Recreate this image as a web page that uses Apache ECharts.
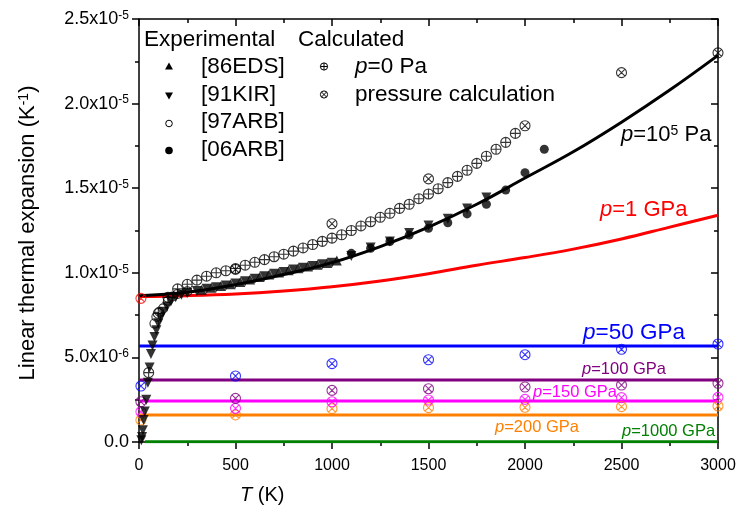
<!DOCTYPE html>
<html><head><meta charset="utf-8">
<script src="https://cdn.jsdelivr.net/npm/echarts@6/dist/echarts.min.js"></script>
<style>html,body{margin:0;padding:0;background:#fff}#c{width:740px;height:518px}</style>
</head><body><div id="c"></div>
<script>
// all alpha values in units of 1e-5 K^-1
const xTicks = [0, 500, 1000, 1500, 2000, 2500, 3000];
const yTickMant = ['0.0', '5.0', '1.0', '1.5', '2.0', '2.5'];
const yTickExp = ['', '-6', '-5', '-5', '-5', '-5'];

const T_curve = [0, 250, 500, 750, 1000, 1250, 1500, 1750, 2000, 2250, 2500, 2750, 3000];
const a_curve_1e5Pa = [0.865, 0.885, 0.93, 0.99, 1.06, 1.155, 1.27, 1.405, 1.56, 1.715, 1.89, 2.08, 2.285];
const a_curve_1GPa = [0.86, 0.865, 0.875, 0.893, 0.918, 0.952, 0.995, 1.045, 1.09, 1.14, 1.20, 1.27, 1.34];

const T_flat = [0, 3000];
const T_flat1000 = [30, 3000];
const a_flat_50GPa = [0.567, 0.567];
const a_flat_100GPa = [0.366, 0.366];
const a_flat_150GPa = [0.242, 0.242];
const a_flat_200GPa = [0.160, 0.160];
const a_flat_1000GPa = [0.002, 0.002];

const T_p0 = [50,100,150,200,250,300,350,400,450,500,550,600,650,700,750,800,850,900,950,1000,1050,1100,1150,1200,1250,1300,1350,1400,1450,1500,1550,1600,1650,1700,1750,1800,1850,1900,1950];
const a_p0 = [0.41,0.76,0.855,0.905,0.932,0.957,0.98,1.0,1.012,1.025,1.045,1.062,1.078,1.095,1.11,1.128,1.147,1.167,1.186,1.205,1.225,1.25,1.277,1.302,1.328,1.352,1.381,1.405,1.438,1.466,1.497,1.533,1.57,1.606,1.647,1.689,1.73,1.771,1.824];

const T_pc = [500, 1000, 1500, 2000, 2500, 3000];
const pc_1e5Pa = [1.02, 1.29, 1.555, 1.869, 2.183, 2.30];
const T_pcLow = [10];
const pcLow_1GPa = [0.849];
const T_pcAll = [10, 500, 1000, 1500, 2000, 2500, 3000];
const pc_50GPa = [0.331, 0.39, 0.463, 0.486, 0.516, 0.548, 0.579];
const pc_100GPa = [0.238, 0.258, 0.305, 0.315, 0.325, 0.337, 0.347];
const pc_150GPa = [0.179, 0.199, 0.238, 0.248, 0.252, 0.262, 0.264];
const pc_200GPa = [0.13, 0.16, 0.197, 0.203, 0.205, 0.209, 0.213];

const T_86EDS = [325,375,425,475,525,575,625,675,725,775,825,875,925,975,1025];
const a_86EDS = [0.90,0.912,0.922,0.933,0.945,0.96,0.975,0.99,1.002,1.015,1.027,1.037,1.047,1.058,1.072];
const T_91KIR = [12,16,20,24,30,38,46,55,62,70,80,90,100,112,126,145,165,190,220,250,300,350,400,450,500,550,600,650,700,750,800,850,900,950,1000,1100,1200,1300,1400,1500,1600,1700,1800];
const a_91KIR = [0.01,0.03,0.07,0.13,0.18,0.25,0.35,0.44,0.52,0.57,0.62,0.66,0.70,0.735,0.77,0.80,0.83,0.855,0.87,0.88,0.892,0.905,0.915,0.925,0.937,0.95,0.965,0.98,0.995,1.005,1.02,1.03,1.04,1.05,1.06,1.10,1.15,1.185,1.235,1.28,1.32,1.38,1.445];
const T_97ARB = [80, 90, 105, 125, 150, 175, 200, 250];
const a_97ARB = [0.70, 0.74, 0.77, 0.79, 0.835, 0.86, 0.875, 0.89];
const T_06ARB = [1100,1200,1300,1400,1500,1600,1700,1800,1900,2000,2100];
const a_06ARB = [1.115,1.145,1.185,1.223,1.263,1.296,1.348,1.405,1.489,1.592,1.73];

const FONT = 'Arial, "Liberation Sans", sans-serif';
const zip = (xs, ys) => xs.map((x, i) => [x, ys[i]]);

const OPLUS = 'path://M0,-5A5,5 0 1,1 0,5A5,5 0 1,1 0,-5Z M-5,0L5,0 M0,-5L0,5';
const OTIMES = 'path://M0,-5A5,5 0 1,1 0,5A5,5 0 1,1 0,-5Z M-3.54,-3.54L3.54,3.54 M-3.54,3.54L3.54,-3.54';

function lineSeries(xs, ys, color, width, smooth) {
  return {type: 'line', data: zip(xs, ys), smooth: smooth ? 0.4 : false, symbol: 'none',
    lineStyle: {color: color, width: width}, z: 3, silent: true};
}
function hollow(xs, ys, color, sym, size) {
  return {type: 'scatter', data: zip(xs, ys), symbol: sym, symbolSize: size,
    itemStyle: {color: 'rgba(0,0,0,0)', borderColor: color, borderWidth: 1.1}, z: 4, silent: true};
}
function filled(xs, ys, sym, size, rot) {
  return {type: 'scatter', data: zip(xs, ys), symbol: sym, symbolSize: size, symbolRotate: rot || 0,
    itemStyle: {color: '#000'}, z: 5, silent: true};
}

const chart = echarts.init(document.getElementById('c'), null, {renderer: 'canvas', width: 740, height: 518});

const axisLine = {show: true, onZero: false, lineStyle: {color: '#000', width: 1.5}};
const tickStyle = {color: '#000', width: 1.5};

const txt = (t, x, y, size, color, extra) => ({
  type: 'text', x: x, y: y, silent: true,
  style: Object.assign({text: t, fill: color, font: size + 'px ' + FONT, textVerticalAlign: 'middle',
    rich: {
      i: {fontStyle: 'italic', fontSize: size, fontFamily: FONT, fill: color},
      n: {fontSize: size, fontFamily: FONT, fill: color},
      s: {fontSize: Math.round(size * 0.62), fontFamily: FONT, fill: color, verticalAlign: 'top', lineHeight: Math.round(size * 0.62)}
    }}, extra || {})
});

const legendGraphics = [
  txt('Experimental', 144, 40, 22.5, '#000'),
  txt('Calculated', 298, 40, 22.5, '#000'),
  {type: 'polygon', silent: true, shape: {points: [[169, 62.5], [173, 69.5], [165, 69.5]]}, style: {fill: '#000'}},
  {type: 'polygon', silent: true, shape: {points: [[165, 92.5], [173, 92.5], [169, 99.5]]}, style: {fill: '#000'}},
  {type: 'circle', silent: true, shape: {cx: 169, cy: 123.5, r: 3.3}, style: {fill: '#fff', stroke: '#000', lineWidth: 1}},
  {type: 'circle', silent: true, shape: {cx: 169, cy: 150.5, r: 3.8}, style: {fill: '#000'}},
  txt('[86EDS]', 201, 67, 22.5, '#000'),
  txt('[91KIR]', 201, 95, 22.5, '#000'),
  txt('[97ARB]', 201, 122, 22.5, '#000'),
  txt('[06ARB]', 201, 150, 22.5, '#000'),
  {type: 'group', silent: true, x: 324, y: 66.5, children: [
    {type: 'circle', shape: {cx: 0, cy: 0, r: 3.6}, style: {fill: 'none', stroke: '#000', lineWidth: 1}},
    {type: 'line', shape: {x1: -3.6, y1: 0, x2: 3.6, y2: 0}, style: {stroke: '#000', lineWidth: 1}},
    {type: 'line', shape: {x1: 0, y1: -3.6, x2: 0, y2: 3.6}, style: {stroke: '#000', lineWidth: 1}}
  ]},
  {type: 'group', silent: true, x: 324, y: 94.5, children: [
    {type: 'circle', shape: {cx: 0, cy: 0, r: 3.6}, style: {fill: 'none', stroke: '#000', lineWidth: 1}},
    {type: 'line', shape: {x1: -2.5, y1: -2.5, x2: 2.5, y2: 2.5}, style: {stroke: '#000', lineWidth: 1}},
    {type: 'line', shape: {x1: -2.5, y1: 2.5, x2: 2.5, y2: -2.5}, style: {stroke: '#000', lineWidth: 1}}
  ]},
  txt('{i|p}{n|=0 Pa}', 355, 67, 22.5, '#000'),
  txt('pressure calculation', 355, 95, 22.5, '#000'),
  // curve labels
  txt('{i|p}{n|=10}{s|5}{n| Pa}', 621, 135, 22, '#000'),
  txt('{i|p}{n|=1 GPa}', 600, 210, 22, '#ff0000'),
  txt('{i|p}{n|=50 GPa}', 583, 333, 22.5, '#0000ff'),
  txt('{i|p}{n|=100 GPa}', 582, 369, 16.5, '#800080'),
  txt('{i|p}{n|=150 GPa}', 533, 392, 16.5, '#ff00ff'),
  txt('{i|p}{n|=200 GPa}', 495, 427, 16.5, '#ff8000'),
  txt('{i|p}{n|=1000 GPa}', 622, 431, 16.5, '#008000'),
  // y axis title
  {type: 'text', x: 28, y: 233, rotation: Math.PI / 2, silent: true,
    style: {text: '{n|Linear thermal expansion (K}{s|-1}{n|)}', fill: '#000', font: '22px ' + FONT,
      textAlign: 'center', textVerticalAlign: 'middle',
      rich: {n: {fontSize: 22, fontFamily: FONT, fill: '#000'},
             s: {fontSize: 14, fontFamily: FONT, fill: '#000', verticalAlign: 'top', lineHeight: 14}}}},
  // x axis title
  txt('{i|T}{n| (K)}', 240, 495, 20, '#000')
];

const option = {
  animation: false,
  backgroundColor: '#fff',
  grid: {left: 139, right: 22, top: 19, bottom: 76, show: false},
  xAxis: [
    {type: 'value', min: 0, max: 3000, interval: 500, position: 'bottom',
      axisLine: axisLine, splitLine: {show: false},
      axisTick: {show: true, inside: false, length: 7, lineStyle: tickStyle},
      minorTick: {show: true, splitNumber: 2, length: 4, lineStyle: tickStyle},
      axisLabel: {fontSize: 16, color: '#000', fontFamily: FONT, margin: 16,
        formatter: v => String(xTicks[Math.round(v / 500)])}},
    {type: 'value', min: 0, max: 3000, interval: 500, position: 'top',
      axisLine: axisLine, splitLine: {show: false},
      axisTick: {show: true, inside: true, length: 7, lineStyle: tickStyle},
      minorTick: {show: true, splitNumber: 2, length: 4, lineStyle: tickStyle},
      axisLabel: {show: false}}
  ],
  yAxis: [
    {type: 'value', min: 0, max: 2.5, interval: 0.5, position: 'left',
      axisLine: axisLine, splitLine: {show: false},
      axisTick: {show: true, inside: false, length: 7, lineStyle: tickStyle},
      minorTick: {show: true, splitNumber: 2, length: 4, lineStyle: tickStyle},
      axisLabel: {color: '#000', margin: 10,
        formatter: v => { const k = Math.round(v / 0.5); return yTickExp[k] ? '{b|' + yTickMant[k] + 'x10}{s|' + yTickExp[k] + '}' : '{b|' + yTickMant[k] + '}'; },
        rich: {b: {fontSize: 18, fontFamily: FONT, color: '#000', lineHeight: 19},
               s: {fontSize: 12, fontFamily: FONT, color: '#000', verticalAlign: 'top', lineHeight: 12}}}},
    {type: 'value', min: 0, max: 2.5, interval: 0.5, position: 'right',
      axisLine: axisLine, splitLine: {show: false},
      axisTick: {show: true, inside: true, length: 7, lineStyle: tickStyle},
      minorTick: {show: true, splitNumber: 2, length: 4, lineStyle: tickStyle},
      axisLabel: {show: false}}
  ],
  series: [
    lineSeries(T_flat1000, a_flat_1000GPa, '#008000', 3),
    lineSeries(T_flat, a_flat_200GPa, '#ff8000', 3),
    lineSeries(T_flat, a_flat_150GPa, '#ff00ff', 3),
    lineSeries(T_flat, a_flat_100GPa, '#800080', 3),
    lineSeries(T_flat, a_flat_50GPa, '#0000ff', 3),
    lineSeries(T_curve, a_curve_1GPa, '#ff0000', 3, true),
    lineSeries(T_curve, a_curve_1e5Pa, '#000000', 3, true),
    hollow(T_pcAll, pc_200GPa, '#ff8000', OTIMES, 10),
    hollow(T_pcAll, pc_150GPa, '#ff00ff', OTIMES, 10),
    hollow(T_pcAll, pc_100GPa, '#800080', OTIMES, 10),
    hollow(T_pcAll, pc_50GPa, '#0000ff', OTIMES, 10),
    hollow(T_pcLow, pcLow_1GPa, '#ff0000', OTIMES, 10),
    hollow(T_97ARB, a_97ARB, '#000', 'circle', 9),
    filled(T_91KIR, a_91KIR, 'triangle', 10, 180),
    filled(T_86EDS, a_86EDS, 'triangle', 10, 0),
    filled(T_06ARB, a_06ARB, 'circle', 9),
    hollow(T_p0, a_p0, '#000', OPLUS, 10),
    hollow(T_pc, pc_1e5Pa, '#000', OTIMES, 10)
  ],
  graphic: legendGraphics
};
chart.setOption(option);
</script></body></html>
